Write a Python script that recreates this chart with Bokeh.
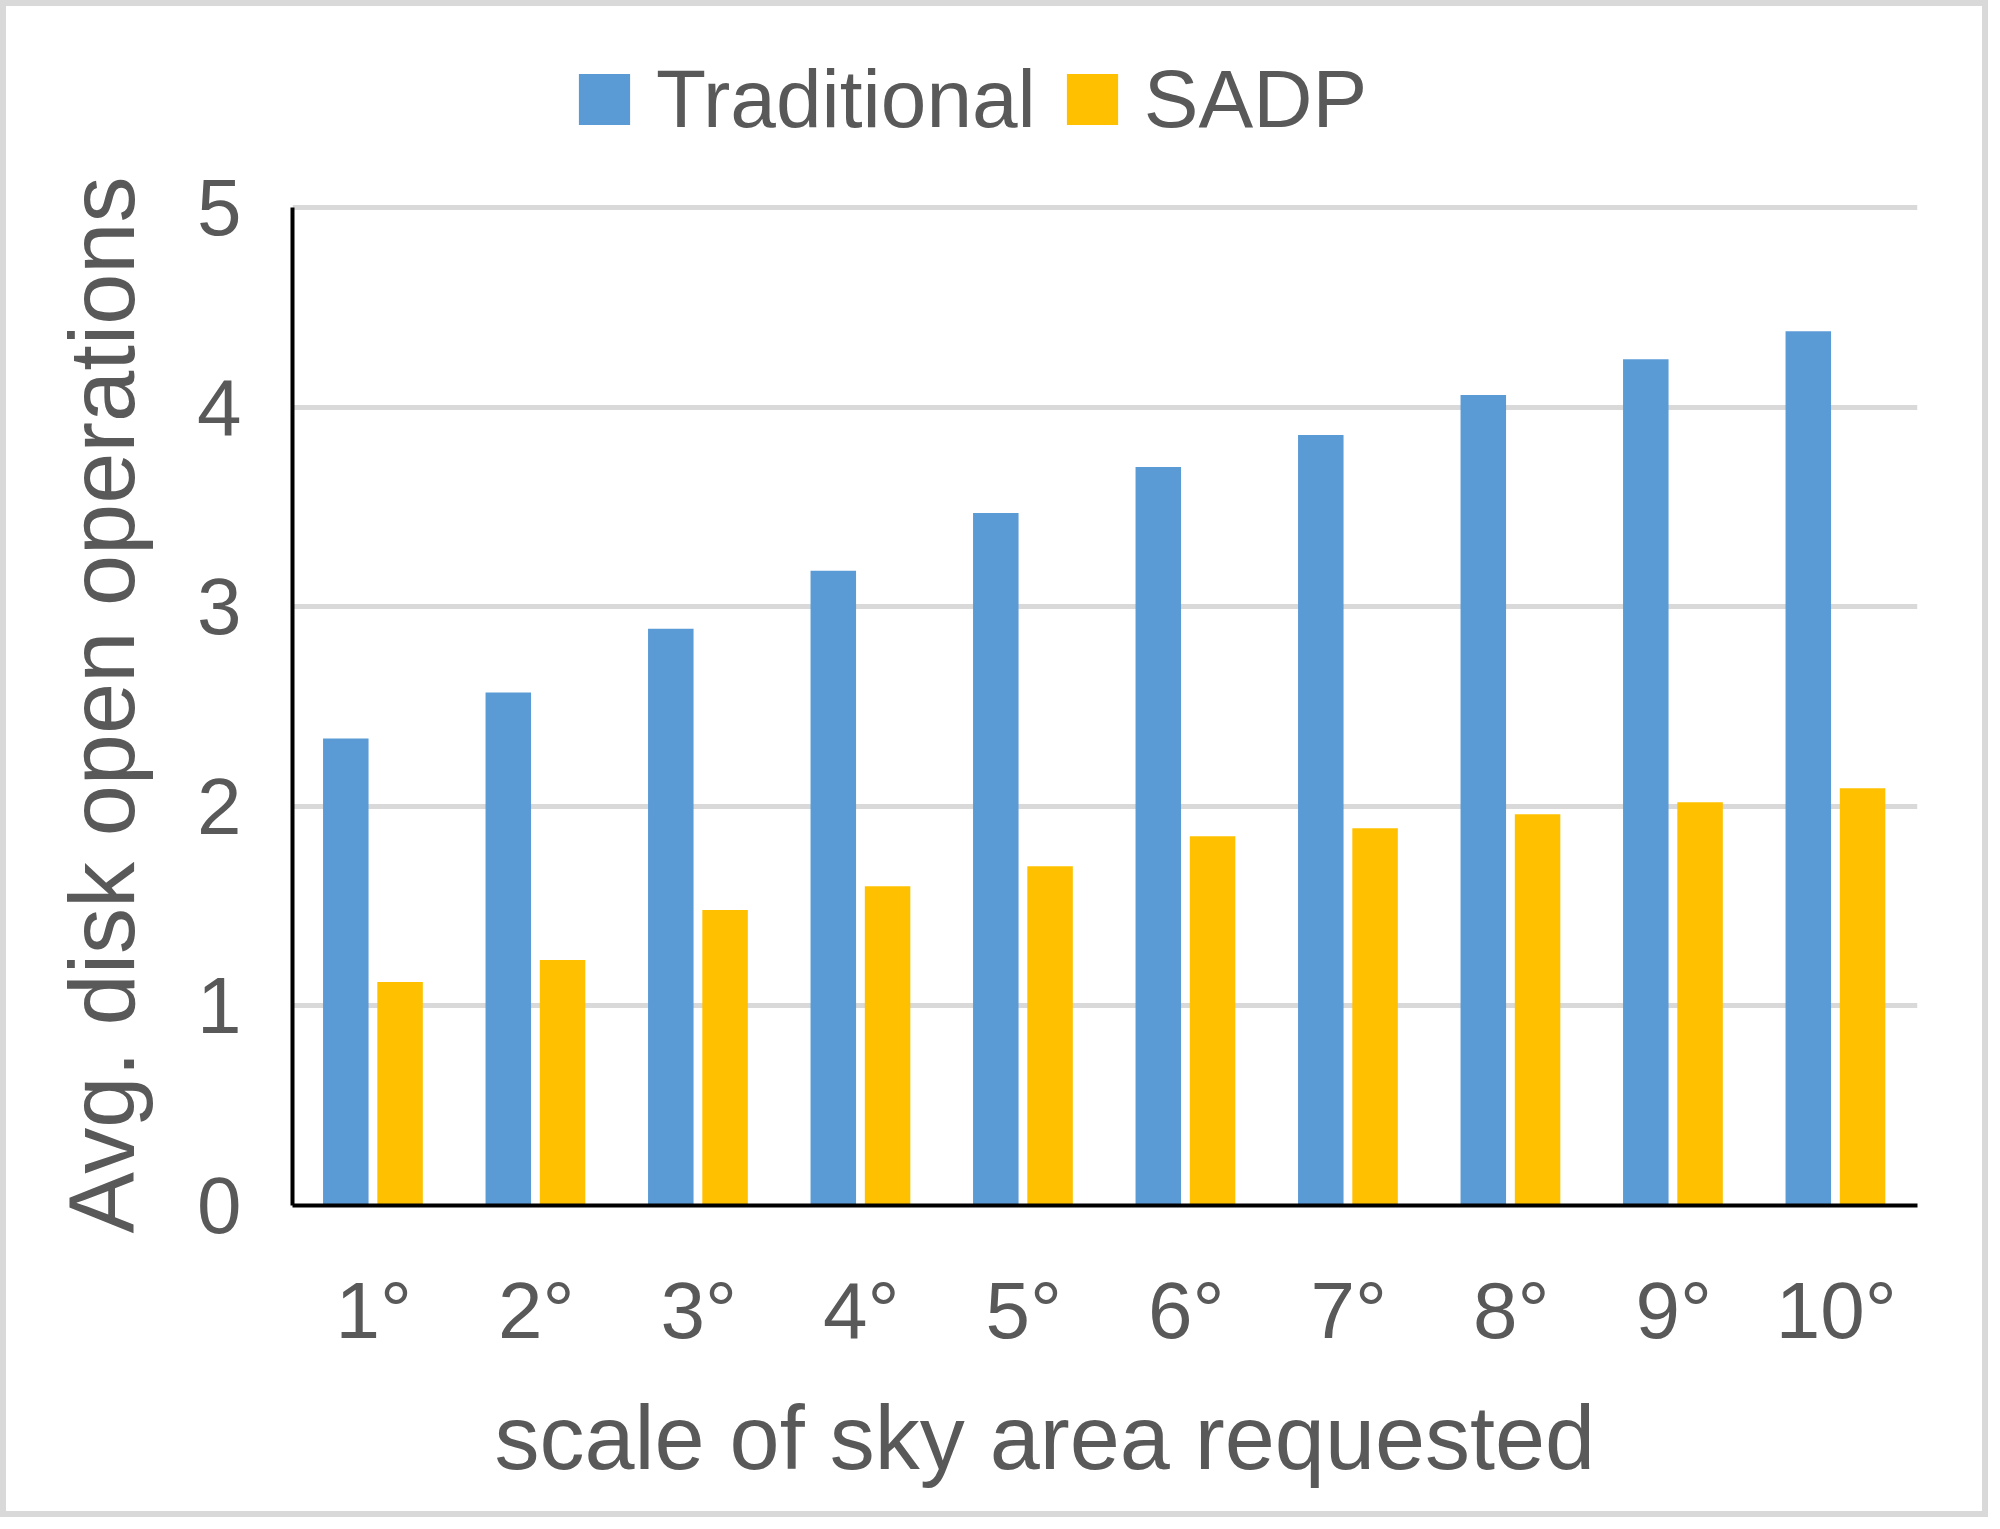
from bokeh.plotting import figure
from bokeh.models import FactorRange, Legend, LegendItem, Title
from bokeh.transform import dodge
from bokeh.models import ColumnDataSource
from bokeh.embed import file_html
from bokeh.resources import INLINE

categories = ["1°", "2°", "3°", "4°", "5°", "6°", "7°", "8°", "9°", "10°"]
traditional = [2.34, 2.57, 2.89, 3.18, 3.47, 3.70, 3.86, 4.06, 4.24, 4.38]
sadp = [1.12, 1.23, 1.48, 1.60, 1.70, 1.85, 1.89, 1.96, 2.02, 2.09]
y_ticks = [0, 1, 2, 3, 4, 5]
y_max_tick = 5

BLUE = "#5B9BD5"
GOLD = "#FFC000"
TXT = "#595959"
FONT = "Liberation Sans"

# layout (pixels)
W, H = 1988, 1517
B_LEFT, B_RIGHT, B_TOP, B_BOTTOM = 285, 77, 24, 318
PX_PER_5 = 998  # height of the 0..5 span
frame_h = H - B_TOP - B_BOTTOM
y_top = y_max_tick * frame_h / PX_PER_5   # room above for the legend

src = ColumnDataSource(dict(cat=categories, trad=traditional, sadp=sadp))

p = figure(
    width=W, height=H,
    x_range=FactorRange(*categories, range_padding=0),
    y_range=(0, y_top),
    output_backend="svg", toolbar_location=None,
    min_border_left=B_LEFT, min_border_right=B_RIGHT,
    min_border_top=B_TOP, min_border_bottom=B_BOTTOM,
)
p.styles = {"border": "6px solid #d9d9d9"}
p.outline_line_color = None
p.background_fill_color = "white"
p.border_fill_color = "white"

r1 = p.vbar(x=dodge("cat", -0.172, range=p.x_range), top="trad", width=0.28,
            source=src, fill_color=BLUE, line_color=None)
r2 = p.vbar(x=dodge("cat", 0.162, range=p.x_range), top="sadp", width=0.28,
            source=src, fill_color=GOLD, line_color=None)

# grid
p.xgrid.grid_line_color = None
p.ygrid.grid_line_color = "#d9d9d9"
p.ygrid.grid_line_width = 5
p.yaxis.ticker = y_ticks
p.yaxis.bounds = (0, y_max_tick)

# axes
for ax in (p.xaxis[0], p.yaxis[0]):
    ax.axis_line_color = "black"
    ax.axis_line_width = 4
    ax.major_tick_line_color = None
    ax.minor_tick_line_color = None
    ax.major_label_text_color = TXT
    ax.major_label_text_font = FONT
    ax.major_label_text_font_size = "80px"

p.xaxis.major_label_standoff = 54
p.yaxis.major_label_standoff = 45

ytitle = Title(text="Avg. disk open operations", align="left", offset=-28,
               vertical_align="bottom",
               text_font=FONT, text_font_size="92px", text_color=TXT,
               text_font_style="normal", standoff=84)
p.add_layout(ytitle, "left")

xtitle = Title(text="scale of sky area requested", align="left", offset=202,
               text_font=FONT, text_font_size="90px", text_color=TXT,
               text_font_style="normal", standoff=56)
p.add_layout(xtitle, "below")

legend = Legend(items=[LegendItem(label="Traditional", renderers=[r1]),
                       LegendItem(label="SADP", renderers=[r2])],
                orientation="horizontal", location=(280, 1059))
legend.padding = 0
legend.margin = 0
legend.spacing = 24
legend.label_standoff = 20
legend.glyph_width = 64
legend.glyph_height = 64
legend.label_text_font = FONT
legend.label_text_font_size = "82px"
legend.label_text_color = TXT
legend.border_line_color = None
legend.background_fill_alpha = 0
p.add_layout(legend, "center")

open("out.html", "w").write(file_html(p, INLINE))
